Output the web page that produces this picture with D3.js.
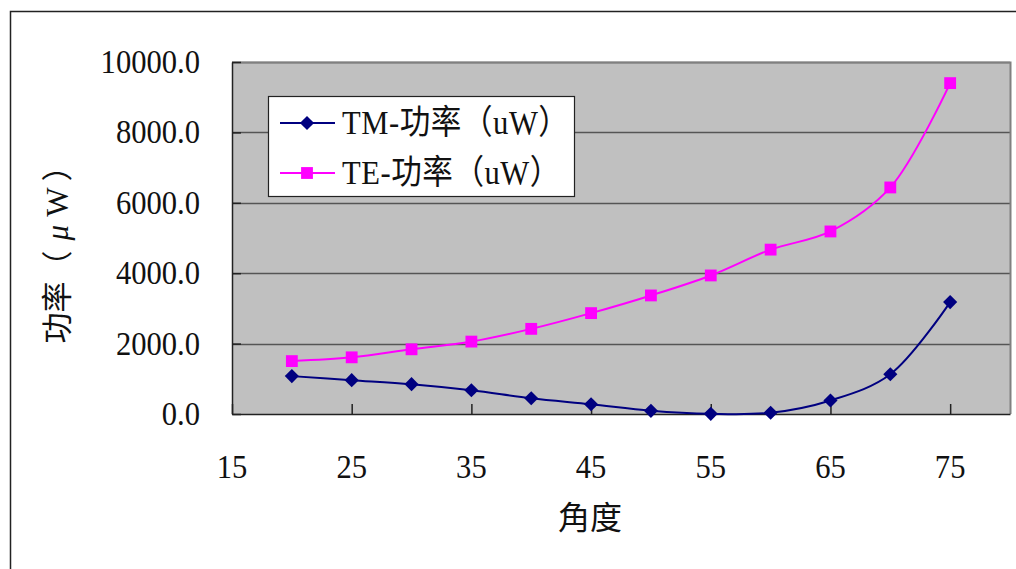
<!DOCTYPE html>
<html><head><meta charset="utf-8">
<script src="https://cdn.jsdelivr.net/npm/d3@7"></script>
<style>body{margin:0;background:#fff}svg{display:block}</style>
</head><body>
<script>
const angles = [20,25,30,35,40,45,50,55,60,65,70,75];
const tmPower = [1076,962,848,676,448,276,90,5,35,385,1130,3180];
const tePower = [1503,1610,1838,2057,2419,2866,3368,3936,4670,5186,6436,9400];
const seriesNames = ["TM-功率（uW）","TE-功率（uW）"];
const xTicks = [15,25,35,45,55,65,75];
const yTicks = [0,2000,4000,6000,8000,10000];
const xTitle = "角度";

const W=1016,H=569;
const FONT='"Liberation Serif","Noto Sans CJK TC",serif';
const svg=d3.select("body").append("svg").attr("width",W).attr("height",H);
svg.append("rect").attr("width",W).attr("height",H).attr("fill","#fff");
svg.append("rect").attr("x",10.5).attr("y",11.5).attr("width",1200).attr("height",800)
  .attr("fill","none").attr("stroke","#222").attr("stroke-width",1.5);

const L=232,R=1010,T=62,B=414;
const x=d3.scaleLinear().domain([15,80]).range([L,R]);
const y=d3.scaleLinear().domain([0,10000]).range([B,T]);

svg.append("rect").attr("x",L).attr("y",T).attr("width",R-L).attr("height",B-T).attr("fill","#C0C0C0");
svg.append("g").selectAll("line").data(yTicks.filter(d=>d>0)).join("line")
  .attr("x1",L).attr("x2",R).attr("y1",d=>Math.round(y(d))+0.5).attr("y2",d=>Math.round(y(d))+0.5)
  .attr("stroke","#555").attr("stroke-width",1.5);
svg.append("path").attr("d",`M${L},${T+0.5}H${R+0.5}V${B}`).attr("fill","none").attr("stroke","#808080").attr("stroke-width",2);
const yAxis=d3.axisLeft(y).tickValues(yTicks).tickSizeInner(-9).tickSizeOuter(0).tickFormat("");
svg.append("g").attr("transform",`translate(${L},0)`).call(yAxis)
  .call(g=>g.selectAll("line,path").attr("stroke","#222").attr("stroke-width",1.5));
const xAxis=d3.axisBottom(x).tickValues(xTicks).tickSizeInner(-10).tickSizeOuter(0).tickFormat("");
svg.append("g").attr("transform",`translate(0,${B})`).call(xAxis)
  .call(g=>g.selectAll("line,path").attr("stroke","#222").attr("stroke-width",1.5));

const sx=0.9;
svg.append("g").selectAll("text").data(yTicks).join("text")
  .attr("transform",d=>`translate(200,${y(d)+11}) scale(${sx},1)`)
  .attr("text-anchor","end").attr("font-family",FONT).attr("font-size",34).attr("fill","#111")
  .text(d=>d3.format(".1f")(d));
svg.append("g").selectAll("text").data(xTicks).join("text")
  .attr("transform",d=>`translate(${x(d)},478) scale(${sx},1)`)
  .attr("text-anchor","middle").attr("font-family",FONT).attr("font-size",34).attr("fill","#111")
  .text(d=>d);

svg.append("text").attr("transform",`translate(590,529)`).attr("text-anchor","middle")
  .attr("font-family",FONT).attr("font-size",32).attr("fill","#111").text(xTitle);
const yt=svg.append("text").attr("transform",`translate(68,247) rotate(-90)`).attr("text-anchor","middle")
  .attr("font-family",FONT).attr("font-size",31).attr("fill","#111");
yt.append("tspan").text("功率（");
yt.append("tspan").attr("font-style","italic").attr("dx",10).text("μ");
yt.append("tspan").attr("dx",8).text("W");
yt.append("tspan").attr("dx",6).text("）");

const line=d3.line().x(d=>x(d[0])).y(d=>y(d[1])).curve(d3.curveCatmullRom.alpha(0.5));
const series=[
  {name:seriesNames[0],vals:tmPower,color:"#000080",shape:d3.symbolSquare,size:100,rot:45},
  {name:seriesNames[1],vals:tePower,color:"#FF00FF",shape:d3.symbolSquare,size:140,rot:0}
];
series.forEach(s=>{
  const pts=angles.map((a,i)=>[a,s.vals[i]]);
  svg.append("path").attr("d",line(pts)).attr("fill","none").attr("stroke",s.color).attr("stroke-width",2);
  svg.append("g").selectAll("path").data(pts).join("path")
    .attr("transform",d=>`translate(${x(d[0])},${y(d[1])}) rotate(${s.rot})`)
    .attr("d",d3.symbol().type(s.shape).size(s.size)).attr("fill",s.color);
});

const lg=svg.append("g");
lg.append("rect").attr("x",268.5).attr("y",96.5).attr("width",306).attr("height",100)
  .attr("fill","#fff").attr("stroke","#222").attr("stroke-width",1.2);
series.forEach((s,i)=>{
  const cy=123+i*50;
  lg.append("line").attr("x1",280).attr("x2",335).attr("y1",cy).attr("y2",cy).attr("stroke",s.color).attr("stroke-width",2);
  lg.append("path").attr("transform",`translate(307,${cy}) rotate(${s.rot})`).attr("d",d3.symbol().type(s.shape).size(s.size)).attr("fill",s.color);
  lg.append("text").attr("transform",`translate(342,${cy+11}) scale(${sx},1)`).attr("font-family",FONT)
    .attr("font-size",34).attr("fill","#111").attr("letter-spacing",0.6).text(s.name);
});
</script>
</body></html>
